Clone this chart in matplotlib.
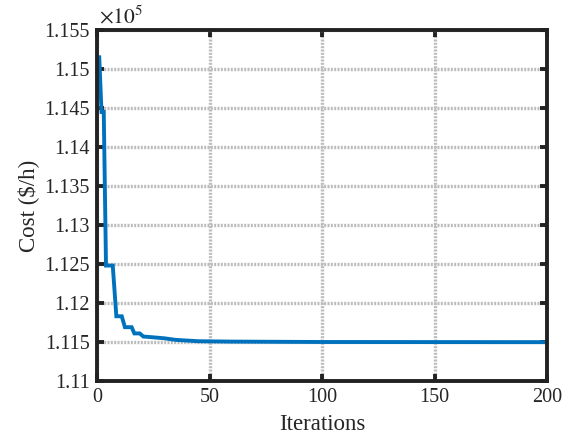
import matplotlib
matplotlib.use("Agg")
import matplotlib.pyplot as plt
from matplotlib.ticker import FuncFormatter, MultipleLocator

iterations = [1, 2, 3, 4, 7, 8.6, 11, 12.4, 15.4, 16.6, 19, 20.6, 25, 30, 35, 45, 60, 100, 200]
cost = [115150, 114450, 114450, 112480, 112480, 111830, 111830, 111690, 111690, 111610,
        111610, 111570, 111560, 111547, 111527, 111510, 111505, 111500, 111498]
x_ticks = [0, 50, 100, 150, 200]

plt.rcParams['font.family'] = ['Liberation Serif', 'DejaVu Serif']
plt.rcParams['mathtext.fontset'] = 'stix'

fig = plt.figure(figsize=(5.68, 4.36), dpi=100)
ax = fig.add_axes([97/568, 1-381/436, 450/568, 351/436])
ax.plot(iterations, cost, color='#0072BD', lw=2.8, solid_joinstyle='miter')

ax.set_xlim(0, 200)
ax.set_ylim(111000, 115500)
ax.set_xticks(x_ticks)
ax.yaxis.set_major_locator(MultipleLocator(500))

def yfmt(v, pos):
    s = f"{v/1e5:.3f}".rstrip('0').rstrip('.')
    return s
ax.yaxis.set_major_formatter(FuncFormatter(yfmt))

ax.grid(True, color='#bcbcbc', linestyle=(0, (0.6, 0.4)), lw=2.4)
ax.set_axisbelow(True)
for sp in ax.spines.values():
    sp.set_linewidth(2.8)
    sp.set_color('#222222')
ax.tick_params(direction='in', length=5, width=2.8, top=True, right=True,
               labelsize=14.5, colors='#222222', labelcolor='#262626', pad=5)
ax.set_xlabel('Iterations', fontsize=16.5, color='#262626', labelpad=5)
ax.set_ylabel('Cost (\\$/h)', fontsize=16.5, color='#262626', labelpad=4)
fig.text(99/568, 1-17/436, r'$\times10^{5}$', fontsize=15.5, color='#262626', va='center', ha='left')

fig.savefig('out.png', dpi=100)
